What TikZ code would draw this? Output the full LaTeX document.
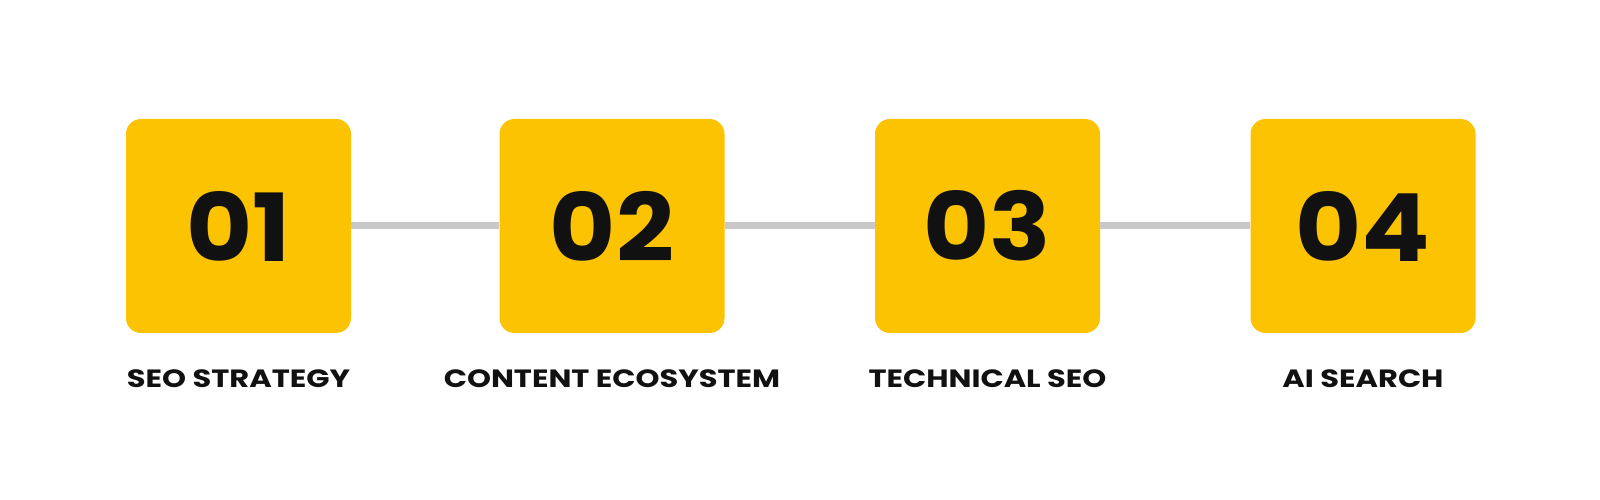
\documentclass[tikz,border=0pt]{standalone}
\usepackage{fontspec}
\setmainfont{Poppins}
\newfontfamily\labfont{Poppins}[FakeStretch=1.22]
\newfontfamily\numfont{Poppins}[FakeStretch=1.08]
\usepackage{xcolor}
\usepackage{tikz}
\definecolor{bg}{HTML}{FFFFFF}
\definecolor{gold}{HTML}{FBC302}
\definecolor{rail}{HTML}{C8C8C8}
\definecolor{ink}{HTML}{111111}
\tikzset{
  stepbox/.style={fill=gold, rounded corners=15pt, minimum width=225pt, minimum height=214pt, inner sep=0pt,
    text=ink, font=\numfont\fontsize{94}{94}\selectfont\bfseries},
  link/.style={draw=rail, line width=7pt},
  lab/.style={text=ink, anchor=base, inner sep=0pt, font=\labfont\fontsize{25}{25}\selectfont\bfseries},
}
\begin{document}
\begin{tikzpicture}[x=1pt, y=1pt]
  \fill[bg] (0,0) rectangle (1600,500);
  \useasboundingbox (0,0) rectangle (1600,500);
  % steps
  \node[stepbox] (box1) at (238.5,274) {01};
  \node[stepbox] (box2) at (612,274) {02};
  \node[stepbox] (box3) at (987.5,274) {03};
  \node[stepbox] (box4) at (1363,274) {04};
  % rail between the steps
  \draw[link] (box1) -- (box2);
  \draw[link] (box2) -- (box3);
  \draw[link] (box3) -- (box4);
  % captions
  \node[lab] (lab1) at (238.5,112) {SEO STRATEGY};
  \node[lab] (lab2) at (612,112) {CONTENT ECOSYSTEM};
  \node[lab] (lab3) at (987.5,112) {TECHNICAL SEO};
  \node[lab] (lab4) at (1363,112) {AI SEARCH};
\end{tikzpicture}
\end{document}
